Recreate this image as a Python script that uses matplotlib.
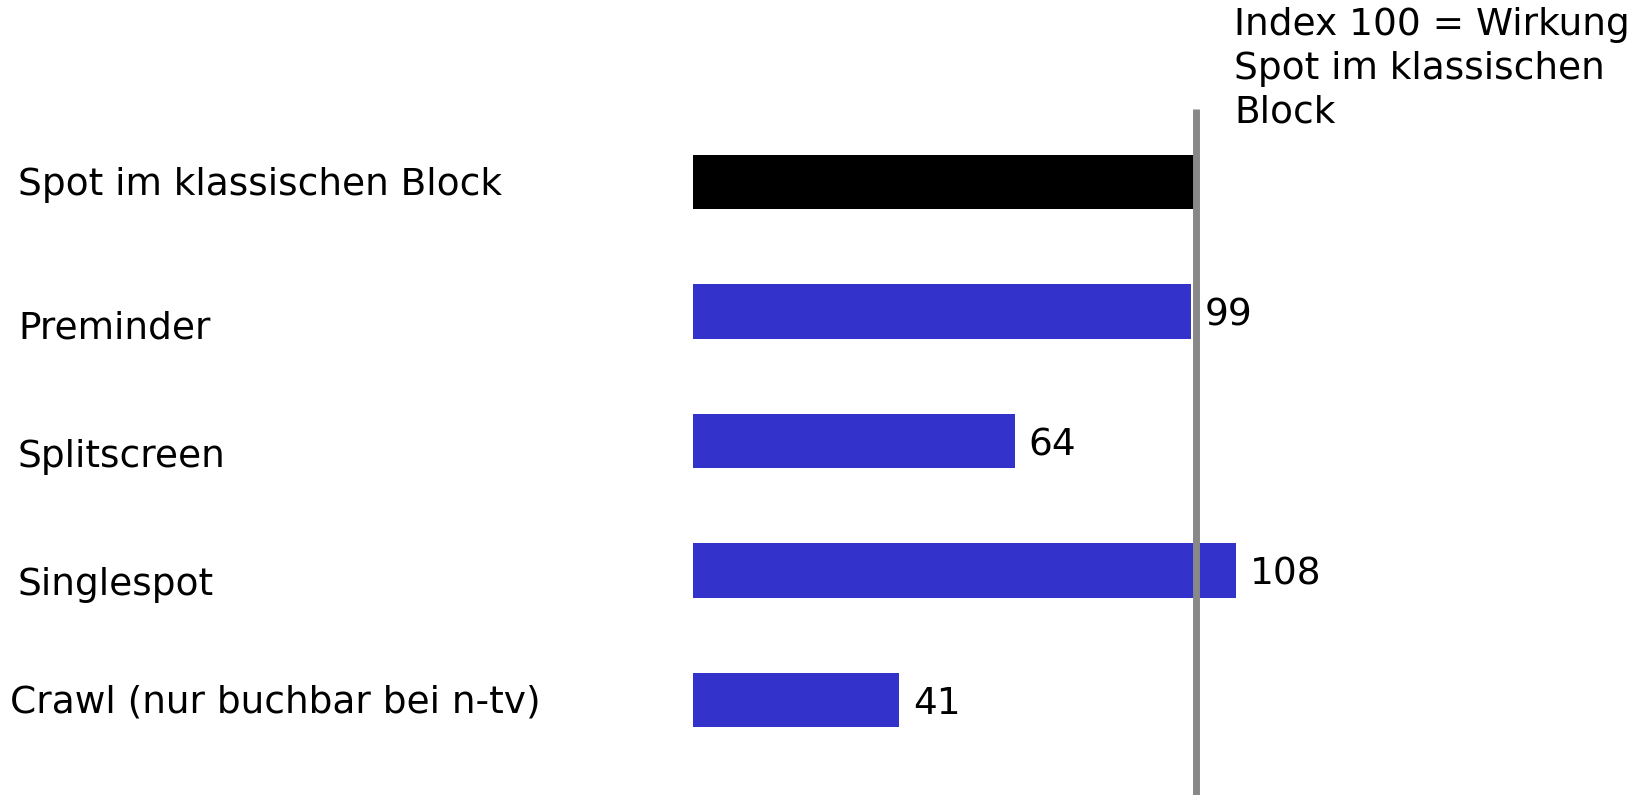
import matplotlib.pyplot as plt

categories = ["Spot im klassischen Block", "Preminder", "Splitscreen",
              "Singlespot", "Crawl (nur buchbar bei n-tv)"]
values = [100, 99, 64, 108, 41]
value_labels = ["", "99", "64", "108", "41"]
colors = ["#000000", "#3333cc", "#3333cc", "#3333cc", "#3333cc"]
note = "Index 100 = Wirkung\nSpot im klassischen\nBlock"

# small per-label vertical offsets (row units) and x starts (pixels)
label_dy = [0.02, 0.13, 0.12, 0.11, 0.02]
label_x = [18, 18, 18, 18, 10]


def main():
    fig = plt.figure(figsize=(16.5, 7.95), dpi=100)
    ax = fig.add_axes([0, 0, 1, 1])
    ax.set_xlim(-138.1, 190.5)
    ax.set_ylim(4.733, -1.405)
    ax.axis("off")

    y = list(range(len(categories)))
    ax.barh(y, values, height=0.42, color=colors)

    for i, (cat, lab) in enumerate(zip(categories, value_labels)):
        px = label_x[i] / 1650
        ax.text(px, i + label_dy[i], cat, transform=ax.get_yaxis_transform(),
                ha="left", va="center", fontsize=27, family="DejaVu Sans")
        if lab:
            ax.annotate(lab, (values[i], i), xytext=(14, -4),
                        textcoords="offset pixels", ha="left", va="center",
                        fontsize=27, family="DejaVu Sans")

    ax.plot([100, 100], [-0.56, 4.733], color="#888888", lw=5,
            solid_capstyle="butt", zorder=3)

    fig.text(1234 / 1650, 1 - 7 / 795, note, ha="left", va="top",
             fontsize=27, family="DejaVu Sans", linespacing=1.27)

    fig.savefig("out.png", dpi=100)


main()
